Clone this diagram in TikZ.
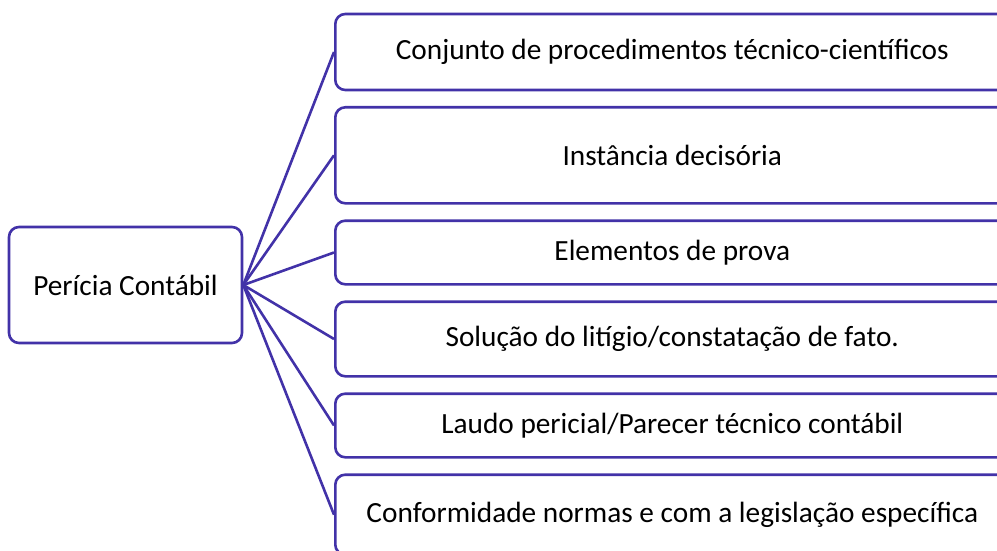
\documentclass[tikz,border=0pt]{standalone}
\usepackage{fontspec}
\setmainfont{Carlito}
\definecolor{edge}{RGB}{66,50,168}
\begin{document}
\begin{tikzpicture}[x=1pt,y=-1pt,
  box/.style={draw=edge,line width=2.6pt,rounded corners=10pt,inner sep=0pt,
    font=\fontsize{29.3}{34}\selectfont,text=black,fill=white},
  rbox/.style={box,minimum width=674pt,anchor=west},
  link/.style={draw=edge,line width=2.6pt}]
\useasboundingbox (0,0) rectangle (997,551);
\clip (0,0) rectangle (997,551);
\node[box,minimum width=233pt,minimum height=116pt] (L) at (125.5,285) {Perícia Contábil};
\node[rbox,minimum height=76pt] (B1) at (334,52) {Conjunto de procedimentos técnico-científicos};
\node[rbox,minimum height=96pt] (B2) at (334,155.3) {Instância decisória};
\node[rbox,minimum height=63.6pt] (B3) at (334,252.5) {Elementos de prova};
\node[rbox,minimum height=74.6pt] (B4) at (334,339) {Solução do litígio/constatação de fato.};
\node[rbox,minimum height=63.6pt] (B5) at (334,425.5) {Laudo pericial/Parecer técnico contábil};
\node[rbox,minimum height=80pt] (B6) at (334,514.7) {Conformidade normas e com a legislação específica};
\foreach \i in {1,...,6} \draw[link] (L.east) -- (B\i.west);
\end{tikzpicture}
\end{document}
